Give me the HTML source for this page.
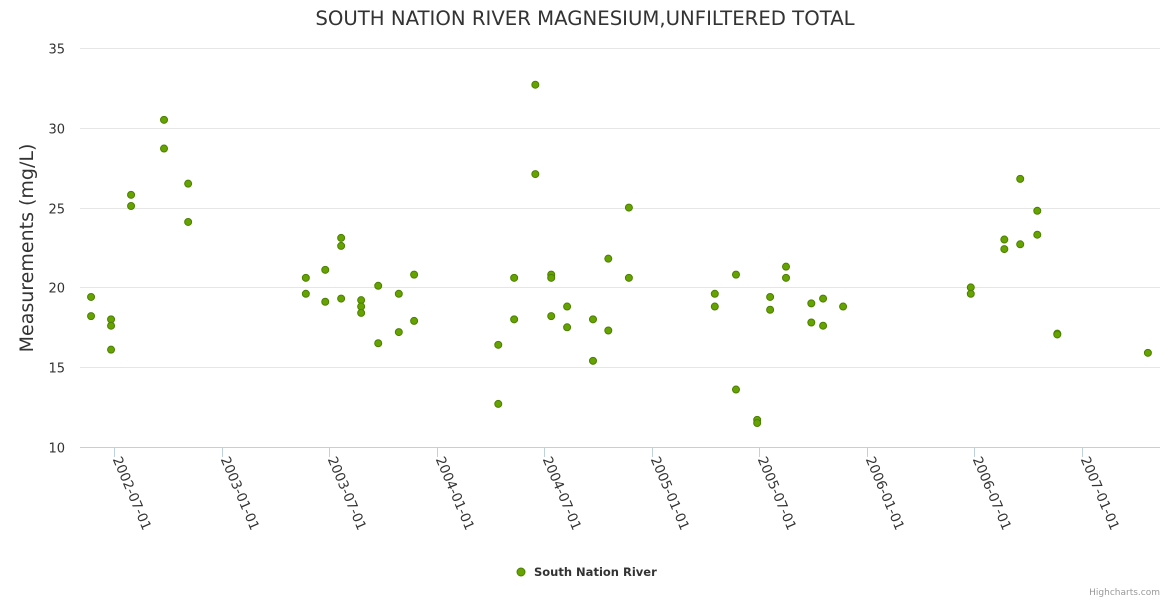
<!DOCTYPE html>
<html><head><meta charset="utf-8"><style>
html,body{margin:0;padding:0;background:#fff;}
svg{display:block;font-family:"DejaVu Sans","Liberation Sans",sans-serif;}
</style></head><body>
<svg id="chart" width="1170" height="600">
<text x="585" y="25" text-anchor="middle" font-size="19.7" fill="#333">SOUTH NATION RIVER MAGNESIUM,UNFILTERED TOTAL</text>
<text transform="translate(33,248) rotate(-90)" text-anchor="middle" font-size="19" fill="#333">Measurements (mg/L)</text>
<g id="grid"></g><g id="xaxis"></g><g id="pts"></g>
<g>
<circle cx="521" cy="572" r="4" fill="#66a300" stroke="#4a8000" stroke-width="1"/>
<text x="534" y="576" font-size="11.5" font-weight="bold" fill="#333">South Nation River</text>
</g>
<text x="1160" y="595" text-anchor="end" font-size="9" fill="#999">Highcharts.com</text>
</svg>
<script>
const dates=["2002-05-23","2002-05-23","2002-06-26","2002-06-26","2002-06-26","2002-07-30","2002-07-30","2002-09-24","2002-09-24","2002-11-04","2002-11-04",
"2003-05-23","2003-05-23","2003-06-25","2003-06-25","2003-07-22","2003-07-22","2003-07-22","2003-08-25","2003-08-25","2003-08-25","2003-09-23","2003-09-23","2003-10-28","2003-10-28","2003-11-23","2003-11-23",
"2004-04-14","2004-04-14","2004-05-11","2004-05-11","2004-06-16","2004-06-16","2004-07-13","2004-07-13","2004-07-13","2004-08-09","2004-08-09","2004-09-22","2004-09-22","2004-10-18","2004-10-18","2004-11-22","2004-11-22",
"2005-04-17","2005-04-17","2005-05-23","2005-05-23","2005-06-28","2005-06-28","2005-07-20","2005-07-20","2005-08-16","2005-08-16","2005-09-28","2005-09-28","2005-10-18","2005-10-18","2005-11-21",
"2006-06-26","2006-06-26","2006-08-22","2006-08-22","2006-09-18","2006-09-18","2006-10-17","2006-10-17","2006-11-20","2006-11-20","2007-04-23"];
const values=[19.4,18.2,18.0,17.6,16.1,25.8,25.1,30.5,28.7,26.5,24.1,
20.6,19.6,21.1,19.1,23.1,22.6,19.3,19.2,18.8,18.4,20.1,16.5,19.6,17.2,20.8,17.9,
16.4,12.7,20.6,18.0,32.7,27.1,20.8,20.6,18.2,18.8,17.5,18.0,15.4,21.8,17.3,25.0,20.6,
19.6,18.8,20.8,13.6,11.7,11.5,19.4,18.6,21.3,20.6,19.0,17.8,19.3,17.6,18.8,
20.0,19.6,23.0,22.4,26.8,22.7,24.8,23.3,17.1,17.05,15.9];
const xTicks=["2002-07-01","2003-01-01","2003-07-01","2004-01-01","2004-07-01","2005-01-01","2005-07-01","2006-01-01","2006-07-01","2007-01-01"];
const yTicks=[10,15,20,25,30,35];
const NS="http://www.w3.org/2000/svg";
const L=80,R=1160,T=48,B=447;
const d0=Date.UTC(2002,6,1),pxPerDay=968/1645;
function xs(s){const p=s.split('-');return 114+(Date.UTC(+p[0],p[1]-1,+p[2])-d0)/864e5*pxPerDay;}
function ys(v){return B-(v-10)/25*(B-T);}
function mk(t,a,parent){const e=document.createElementNS(NS,t);for(const k in a)e.setAttribute(k,a[k]);parent.appendChild(e);return e;}
const g=document.getElementById('grid'),xa=document.getElementById('xaxis'),pg=document.getElementById('pts');
yTicks.forEach(v=>{const y=Math.round(ys(v))+0.5;
const l=mk('line',{x1:L,x2:R,y1:y,y2:y,stroke:v===10?'#c0d0e0':'#e6e6e6','stroke-width':1},g);


const t=mk('text',{x:L-15,y:y+5,'text-anchor':'end','font-size':13,fill:'#333'},g);t.textContent=v;

});
xTicks.forEach(s=>{const x=Math.round(xs(s))+0.5;
const l=mk('line',{x1:x,x2:x,y1:B,y2:B+10,stroke:'#c0d0e0'},xa);


const t=mk('text',{transform:`translate(${x-2},${B+12}) rotate(67)`,'font-size':13.5,fill:'#333'},xa);t.textContent=s;

});
dates.forEach((d,i)=>{const c=mk('circle',{cx:xs(d),cy:ys(values[i]),r:3.5,fill:'#66a300',stroke:'#4a8000','stroke-width':1},pg);

});
</script>
</body></html>
